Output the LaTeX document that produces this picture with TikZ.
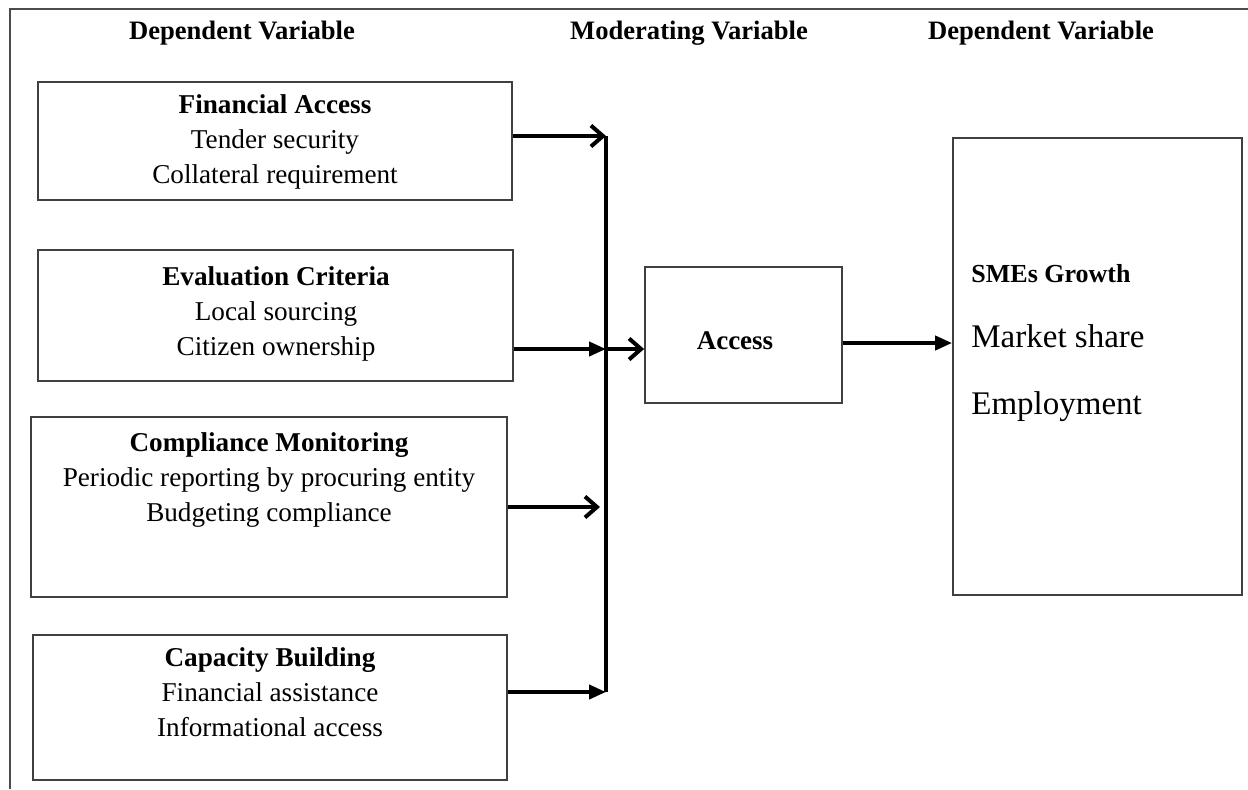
\documentclass[tikz,border=0pt]{standalone}
\usepackage{fontspec}
\setmainfont{Liberation Serif}
\usetikzlibrary{arrows.meta,fit}

\tikzset{
  box/.style={draw=black!75, line width=0.9pt, inner sep=0pt},
  boxtext/.style={align=center, anchor=north, inner sep=0pt, font=\fontsize{13.6}{17.5}\selectfont},
  header/.style={anchor=base, inner sep=0pt, font=\fontsize{13.3}{15}\selectfont\bfseries},
  link/.style={line width=2pt},
  openarr/.style={link, -{Straight Barb[length=6pt,width=10.5pt]}},
  fillarr/.style={link, -{Triangle[length=8.5pt,width=7pt]}},
}

\begin{document}
\begin{tikzpicture}[x=0.5pt,y=0.5pt,yscale=-1]
\useasboundingbox (0,0) rectangle (1248,789);

%Frame
\draw [draw=black!70, line width=1pt] (10,789) -- (10,9) -- (1248,9) ;

% Text Node
\node [header] (hdrLeft) at (242,39) {Dependent Variable};
% Text Node
\node [header] (hdrMid) at (689,39) {Moderating Variable};
% Text Node
\node [header] (hdrRight) at (1041,39) {Dependent Variable};

%Shape: Rectangle
\node [box, fit={(38,82) (512,200)}] (fin) {};
%Shape: Rectangle
\node [box, fit={(38,250) (513,381)}] (eval) {};
%Shape: Rectangle
\node [box, fit={(31,417) (507,597)}] (comp) {};
%Shape: Rectangle
\node [box, fit={(33,635) (507,780)}] (cap) {};
%Shape: Rectangle
\node [box, fit={(645,267) (842,403)}] (acc) {};
%Shape: Rectangle
\node [box, fit={(953,138) (1242,595)}] (sme) {};

% Text Node
\node [boxtext] (finTxt) at (275,94) {\textbf{Financial Access}\\Tender security\\Collateral requirement};
% Text Node
\node [boxtext] (evalTxt) at (276,266) {\textbf{Evaluation Criteria}\\Local sourcing\\Citizen ownership};
% Text Node
\node [boxtext] (compTxt) at (269,432) {\textbf{Compliance Monitoring}\\Periodic reporting by procuring entity\\Budgeting compliance};
% Text Node
\node [boxtext] (capTxt) at (270,647) {\textbf{Capacity Building}\\Financial assistance\\Informational access};
% Text Node
\node [anchor=base, inner sep=0pt, font=\fontsize{13.5}{16}\selectfont\bfseries] (accTxt) at (735,349) {Access};
% Text Node
\node [anchor=base west, inner sep=0pt, font=\fontsize{13}{15}\selectfont\bfseries] (smeTitle) at (971,282) {SMEs Growth};
% Text Node
\node [anchor=base west, inner sep=0pt, font=\fontsize{16.5}{19}\selectfont] (smeMkt) at (971,347) {Market share};
% Text Node
\node [anchor=base west, inner sep=0pt, font=\fontsize{16.5}{19}\selectfont] (smeEmp) at (971,414) {Employment};

%Straight Lines
\coordinate (barTop) at (606,136);
\coordinate (barBot) at (606,692);
\coordinate (evalOut) at ([yshift=16.75pt]eval.east);
\coordinate (accOut) at ([yshift=4pt]acc.east);
\draw [link] (barTop) -- (barBot) ;

%Arrows
\draw [openarr] (fin.east |- barTop) -- (barTop) ;
\draw [fillarr] (evalOut) -- (evalOut -| barTop) ;
\draw [openarr] (evalOut -| barTop) -- (evalOut -| acc.west) ;
\draw [openarr] (comp.east) -- ([xshift=-3pt]comp.east -| barTop) ;
\draw [fillarr] (cap.east |- barBot) -- (barBot) ;
\draw [fillarr] (accOut) -- (accOut -| sme.west) ;
\end{tikzpicture}
\end{document}
